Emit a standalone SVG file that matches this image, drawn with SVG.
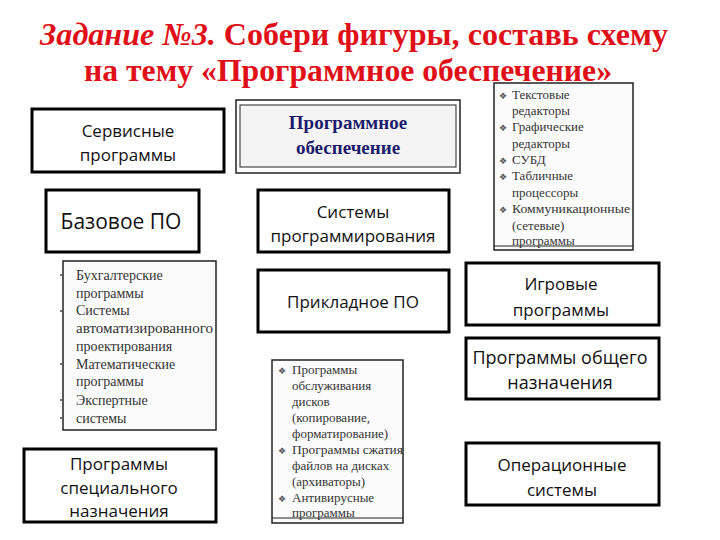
<svg xmlns="http://www.w3.org/2000/svg" width="720" height="540" viewBox="0 0 720 540">
<style>
.title{font-family:"Liberation Serif","Times New Roman",serif;font-weight:bold;fill:#e01018;font-size:32px}
.box{fill:#fff;stroke:#000;stroke-width:3}
.bt{font-family:"Open Sans","Noto Sans",sans-serif;font-size:17px;fill:#111;text-anchor:middle}
.img{fill:#fbfbfb;stroke:#222;stroke-width:1.5}
.li{font-family:"Liberation Serif","Times New Roman",serif;font-size:13px;fill:#333}
.li14{font-family:"Liberation Serif","Times New Roman",serif;font-size:14px;fill:#333}
.bul{font-family:"DejaVu Sans",sans-serif;font-size:9px;fill:#555}
.po{font-family:"Liberation Serif","Times New Roman",serif;font-weight:bold;font-size:19px;fill:#1c1c6c;text-anchor:middle}
</style>
<rect width="720" height="540" fill="#fff"/>
<g id="title">
<text class="title" x="40" y="45" textLength="628" lengthAdjust="spacingAndGlyphs"><tspan font-style="italic">Задание №3.</tspan> Собери фигуры, составь схему</text>
<text class="title" x="84" y="81" textLength="528" lengthAdjust="spacingAndGlyphs">на тему «Программное обеспечение»</text>
</g>
<g id="connectors" stroke="#333" stroke-width="1.5" fill="none">
<line x1="312" y1="172" x2="347" y2="166"/>
<line x1="347" y1="166" x2="382" y2="172"/>
<line x1="347" y1="166" x2="347" y2="172"/>
</g>
<g id="po-root">
<rect x="236" y="100" width="224" height="73" fill="#fff" stroke="#222" stroke-width="1.5"/>
<rect x="240" y="105" width="216" height="62" fill="#f4f4f4" stroke="#222" stroke-width="1"/>
<text class="po" x="348" y="129">Программное</text>
<text class="po" x="348" y="154">обеспечение</text>
</g>
<g id="servisnye">
<rect class="box" x="32" y="109" width="192" height="63"/>
<text class="bt" x="128" y="137">Сервисные</text>
<text class="bt" x="128" y="161">программы</text>
</g>
<g id="bazovoe">
<rect class="box" x="46" y="190" width="153" height="62"/>
<text class="bt" x="121" y="229" style="font-size:21px">Базовое ПО</text>
</g>
<g id="sistemy-prog">
<rect class="box" x="258" y="190" width="191" height="62"/>
<text class="bt" x="353" y="218">Системы</text>
<text class="bt" x="353" y="242">программирования</text>
</g>
<g id="prikladnoe">
<rect class="box" x="258" y="270" width="191" height="62"/>
<text class="bt" x="353" y="308">Прикладное ПО</text>
</g>
<g id="igrovye">
<rect class="box" x="466" y="263" width="193" height="62"/>
<text class="bt" x="561" y="290">Игровые</text>
<text class="bt" x="561" y="316">программы</text>
</g>
<g id="obshego">
<rect class="box" x="466" y="338" width="193" height="61"/>
<text class="bt" x="560" y="364" style="font-size:18px">Программы общего</text>
<text class="bt" x="560" y="389" style="font-size:18px">назначения</text>
</g>
<g id="os">
<rect class="box" x="466" y="443" width="193" height="62"/>
<text class="bt" x="562" y="471">Операционные</text>
<text class="bt" x="562" y="496">системы</text>
</g>
<g id="specialnogo">
<rect class="box" x="24" y="449" width="192" height="73"/>
<text class="bt" x="119" y="470">Программы</text>
<text class="bt" x="119" y="494">специального</text>
<text class="bt" x="119" y="517">назначения</text>
</g>
<g id="list-obshego">
<rect class="img" x="494" y="83" width="139" height="167"/>
<line x1="494" y1="246" x2="633" y2="246" stroke="#222" stroke-width="1"/>
<text class="bul" x="499" y="99">❖</text><text class="li" x="512" y="99">Текстовые</text>
<text class="li" x="512" y="115">редакторы</text>
<text class="bul" x="499" y="131">❖</text><text class="li" x="512" y="131">Графические</text>
<text class="li" x="512" y="148">редакторы</text>
<text class="bul" x="499" y="164">❖</text><text class="li" x="512" y="164">СУБД</text>
<text class="bul" x="499" y="180">❖</text><text class="li" x="512" y="180">Табличные</text>
<text class="li" x="512" y="197">процессоры</text>
<text class="bul" x="499" y="213">❖</text><text class="li" x="512" y="213" textLength="118" lengthAdjust="spacingAndGlyphs">Коммуникационные</text>
<text class="li" x="512" y="230">(сетевые)</text>
<text class="li" x="512" y="245">программы</text>
</g>
<g id="list-special">
<rect class="img" x="63" y="261" width="153" height="169"/>
<circle cx="61" cy="275" r="1" fill="#444"/><text class="li14" x="76" y="280">Бухгалтерские</text>
<text class="li14" x="76" y="298">программы</text>
<circle cx="61" cy="311" r="1" fill="#444"/><text class="li14" x="76" y="315">Системы</text>
<text class="li14" x="76" y="333" textLength="137" lengthAdjust="spacingAndGlyphs">автоматизированного</text>
<text class="li14" x="76" y="351">проектирования</text>
<circle cx="61" cy="364" r="1" fill="#444"/><text class="li14" x="76" y="369">Математические</text>
<text class="li14" x="76" y="386">программы</text>
<circle cx="61" cy="400" r="1" fill="#444"/><text class="li14" x="76" y="405">Экспертные</text>
<circle cx="61" cy="418" r="1" fill="#444"/><text class="li14" x="76" y="423">системы</text>
</g>
<g id="list-service">
<rect class="img" x="272" y="360" width="131" height="163"/>
<line x1="272" y1="518" x2="403" y2="518" stroke="#222" stroke-width="1"/>
<text class="bul" x="278" y="374">❖</text><text class="li" x="292" y="374">Программы</text>
<text class="li" x="292" y="390">обслуживания</text>
<text class="li" x="292" y="406">дисков</text>
<text class="li" x="292" y="422">(копирование,</text>
<text class="li" x="292" y="438">форматирование)</text>
<text class="bul" x="278" y="454">❖</text><text class="li" x="292" y="454" textLength="111" lengthAdjust="spacingAndGlyphs">Программы сжатия</text>
<text class="li" x="292" y="470">файлов на дисках</text>
<text class="li" x="292" y="486">(архиваторы)</text>
<text class="bul" x="278" y="502">❖</text><text class="li" x="292" y="502">Антивирусные</text>
<text class="li" x="292" y="517">программы</text>
</g>
</svg>
